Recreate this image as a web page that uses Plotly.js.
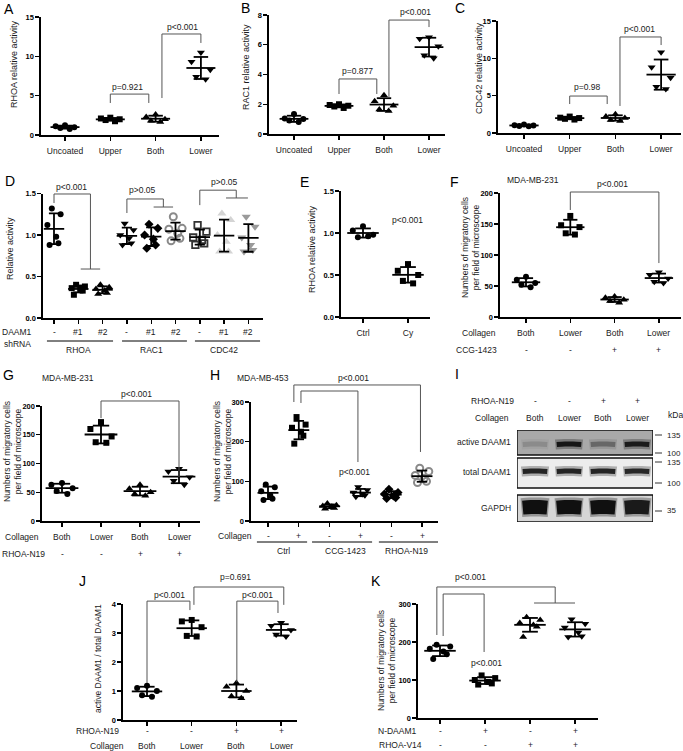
<!DOCTYPE html>
<html><head><meta charset="utf-8">
<script src="https://cdn.plot.ly/plotly-3.0.1.min.js"></script>
<style>html,body{margin:0;padding:0;background:#fff}#chart{width:683px;height:751px}</style>
</head><body><div id="chart"></div>
<script>
// ================= DATA =================
const activityGroups = ['Uncoated', 'Upper', 'Both', 'Lower'];
const rhoaActivity  = [[1.25,1.1,1.0,0.9,0.75],[2.2,2.1,2.0,1.9,1.75],[2.6,2.3,2.0,1.8,1.65],[10.5,9.3,8.3,7.4,7.1]];
const rac1Activity  = [[1.35,1.05,1.0,0.9,0.8],[2.0,1.95,1.9,1.85,1.75],[2.6,2.2,1.9,1.65,1.55],[6.5,6.4,5.9,5.3,5.1]];
const cdc42Activity = [[1.15,1.05,1.0,0.95,0.9],[2.2,2.05,2.0,1.9,1.8],[2.5,2.2,2.0,1.75,1.6],[10.8,8.8,7.4,6.2,5.9]];
const pA = ['p=0.921','p<0.001'];
const pB = ['p=0.877','p<0.001'];
const pC = ['p=0.98','p<0.001'];

const shDAAM1Labels = ['-','#1','#2','-','#1','#2','-','#1','#2'];
const gtpaseLabels = ['RHOA','RAC1','CDC42'];
const shDAAM1Activity = [
  [1.32,1.25,1.12,0.98,0.9,0.88],
  [0.40,0.38,0.36,0.35,0.33,0.28],
  [0.40,0.37,0.35,0.33,0.30,0.29],
  [1.14,1.06,1.0,0.96,0.9,0.88],
  [1.13,1.08,1.0,0.95,0.88,0.84],
  [1.22,1.08,1.07,1.02,0.96,0.93],
  [1.12,1.04,0.97,0.94,0.9,0.88],
  [1.26,1.18,1.0,0.92,0.8,0.8],
  [1.22,1.1,0.97,0.88,0.82,0.8]];
const pD = ['p<0.001','p>0.05','p>0.05'];

const cyGroups = ['Ctrl','Cy'];
const cyRhoa = [[1.08,1.03,0.98,0.95,0.96],[0.63,0.55,0.5,0.43,0.4]];
const pE = ['p<0.001'];

const collagenLabels = ['Both','Lower','Both','Lower'];
const ccgLabels = ['-','-','+','+'];
const mdaMB231CCG = [[65,60,55,52,48],[163,148,145,135,133],[33,31,28,26,23],[72,68,62,57,55]];
const n19Labels = ['-','-','+','+'];
const mdaMB231N19 = [[66,63,57,52,47],[172,160,147,137,136],[63,56,50,47,44],[91,86,76,70,63]];
const collagenPM = ['-','+','-','+','-','+'];
const treatmentGroups = ['Ctrl','CCG-1423','RHOA-N19'];
const mdaMB453 = [[92,85,75,65,56,53],[262,243,235,225,215,195],[44,40,38,36,33,31],[86,78,72,68,65,61],[80,72,68,63,59,57],[133,125,115,108,100,97]];

const blotN19 = ['-','-','+','+'];
const blotCollagen = ['Both','Lower','Both','Lower'];
const blotRows = ['active DAAM1','total DAAM1','GAPDH'];
const activeDAAM1Band = [0.15,0.92,0.35,0.88];
const totalDAAM1Band = [0.88,0.88,0.88,0.85];
const gapdhBand = [1,1,1,0.92];
const kDaMarkers = ['135','100','135','100','35'];

const daamRatio = [[1.18,1.1,1.0,0.85,0.8],[3.45,3.4,3.2,2.9,2.88],[1.28,1.15,1.0,0.82,0.75],[3.35,3.25,3.1,2.95,2.88]];
const nDAAM1Labels = ['-','+','-','+'];
const v14Labels = ['-','-','+','+'];
const nDaamV14 = [[193,188,182,175,168,155],[112,105,100,95,91,88],[265,258,250,245,240,213],[260,248,238,225,215,213]];

// ================= LAYOUT / STYLE =================
const W = 683, H = 751;
const FONT = 'Liberation Sans, Arial, sans-serif';
const TXT = '#1a1a1a';
const traces = [], shapes = [], annotations = [];
const layout = {width:W, height:H, margin:{l:0,r:0,t:0,b:0}, showlegend:false, hovermode:false,
  paper_bgcolor:'#fff', plot_bgcolor:'rgba(0,0,0,0)', shapes, annotations};

const P = {
  A:{n:1, ncat:4, x0:41, x1:219, c0:65, s:45.3, ytop:17, ybot:135, ymax:15, dtick:5, half:0.32},
  B:{n:2, ncat:4, x0:269, x1:445, c0:294, s:45, ytop:15, ybot:134, ymax:8, dtick:2, half:0.32},
  C:{n:3, ncat:4, x0:498, x1:681, c0:524, s:45.7, ytop:21, ybot:133, ymax:15, dtick:5, half:0.32},
  D:{n:4, ncat:9, x0:43, x1:263, c0:54, s:24.3, ytop:193.5, ybot:318, ymax:1.5, dtick:0.5, fmt:'.1f', half:0.42},
  E:{n:5, ncat:2, x0:341, x1:430, c0:363, s:45, ytop:191, ybot:317, ymax:1.5, dtick:0.5, fmt:'.1f', half:0.35},
  F:{n:6, ncat:4, x0:500, x1:681, c0:526, s:44.3, ytop:193, ybot:317, ymax:200, dtick:50, half:0.32},
  G:{n:7, ncat:4, x0:42, x1:200, c0:62, s:39, ytop:406, ybot:521, ymax:200, dtick:50, half:0.42},
  H:{n:8, ncat:6, x0:251, x1:438, c0:268, s:30.8, ytop:402, ybot:521, ymax:300, dtick:100, half:0.34},
  J:{n:9, ncat:4, x0:123, x1:297, c0:147, s:44.7, ytop:604, ybot:720, ymax:4, dtick:1, half:0.34},
  K:{n:10, ncat:4, x0:418, x1:598, c0:440, s:45, ytop:604, ybot:718, ymax:300, dtick:100, half:0.35}
};

function mean(a){return a.reduce((s,v)=>s+v,0)/a.length;}
function sdev(a){const m=mean(a);return Math.sqrt(a.reduce((s,v)=>s+(v-m)*(v-m),0)/(a.length-1));}
function px2x(px){return px/W;}
function py2y(py){return 1-py/H;}
function X(p,i){return (p.x0+(i-p.r0)*p.s)/W;}
function Y(p,v){return 1-(p.ybot - v/p.ymax*(p.ybot-p.ytop))/H;}

function ann(px,py,text,o){
  o=o||{};
  annotations.push({xref:'paper',yref:'paper',x:px2x(px),y:py2y(py),text,showarrow:false,
    xanchor:o.xa||'center',yanchor:'middle',textangle:o.angle||0,
    font:{family:FONT,size:o.size||8.5,color:o.color||TXT}});
}

function setupAxes(p, tickLabels){
  p.r0 = -(p.c0-p.x0)/p.s; p.r1 = p.r0+(p.x1-p.x0)/p.s;
  const sfx = p.n===1?'':p.n;
  p.xa='x'+sfx; p.ya='y'+sfx;
  const tv=[]; for(let i=0;i<p.ncat;i++) tv.push(i);
  layout['xaxis'+sfx] = {domain:[p.x0/W,p.x1/W], range:[p.r0,p.r1], anchor:p.ya, showline:true,
    linecolor:'#000', linewidth:1.6, ticks:'outside', ticklen:4, tickwidth:1.4, tickcolor:'#000',
    showgrid:false, zeroline:false, tickmode:'array', tickvals:tv, ticktext:tickLabels||tv.map(()=>''),
    showticklabels:!!tickLabels, ticklabelstandoff:3, tickfont:{family:FONT,size:8.5,color:TXT}, fixedrange:true};
  const yt=[]; for(let v=0; v<=p.ymax+1e-9; v+=p.dtick) yt.push(+v.toFixed(3));
  layout['yaxis'+sfx] = {domain:[1-p.ybot/H,1-p.ytop/H], range:[0,p.ymax], anchor:p.xa, showline:true,
    linecolor:'#000', linewidth:1.6, ticks:'outside', ticklen:4, tickwidth:1.4, tickcolor:'#000',
    showgrid:false, zeroline:false, tickmode:'array', tickvals:yt, tickformat:p.fmt||'',
    tickfont:{family:FONT,size:7.5,color:'#000',weight:'bold'}, fixedrange:true};
}

const JIT = {4:[-0.6,0.6,0,0.3], 5:[0,-0.9,0.9,-0.45,0.45], 6:[-0.3,0.9,-0.9,0.3,0.6,-0.6]};
const sC={sym:'circle',size:6}, sS={sym:'square',size:6}, sU={sym:'triangle-up',size:7}, sDn={sym:'triangle-down',size:7}, sDi={sym:'diamond',size:7};
const sOpenGrey={sym:'circle-open',size:7,color:'#8a8a8a',lw:2};

function groups(p, data, styles){
  data.forEach((vals,i)=>{
    const st=styles[i], n=vals.length, jp=JIT[n]||JIT[5];
    const xs=vals.map((v,k)=> i + jp[k%jp.length]*p.half*0.72);
    const col=st.color||'#000';
    traces.push({type:'scatter',mode:'markers',x:xs,y:vals,xaxis:p.xa,yaxis:p.ya,cliponaxis:false,
      marker:{symbol:st.sym,size:st.size,color:col,line:{width:st.lw||0,color:col}}});
    const m=mean(vals), sd=sdev(vals), h=p.half, c=p.half*0.5;
    traces.push({type:'scatter',mode:'lines',xaxis:p.xa,yaxis:p.ya,cliponaxis:false,
      x:[i-h,i+h,null,i,i,null,i-c,i+c,null,i-c,i+c],
      y:[m,m,null,m-sd,m+sd,null,m+sd,m+sd,null,m-sd,m-sd],
      line:{color:'#000',width:1.8}});
  });
}

function bracket(p,b){
  let path=`M ${X(p,b.xl)},${Y(p,b.yl)} L ${X(p,b.xl)},${Y(p,b.yt)} L ${X(p,b.xr)},${Y(p,b.yt)} L ${X(p,b.xr)},${Y(p,b.yr)}`;
  if(b.sub) path+=` M ${X(p,b.sub[0])},${Y(p,b.yr)} L ${X(p,b.sub[1])},${Y(p,b.yr)}`;
  shapes.push({type:'path',xref:'paper',yref:'paper',path,line:{color:'#555',width:1}});
  annotations.push({xref:'paper',yref:'paper',x:X(p,b.tx),y:Y(p,b.ty),text:b.t,showarrow:false,
    xanchor:'center',yanchor:'middle',font:{family:FONT,size:8.5,color:TXT}});
}
function pText(p,t,tx,ty){
  annotations.push({xref:'paper',yref:'paper',x:X(p,tx),y:Y(p,ty),text:t,showarrow:false,
    xanchor:'center',yanchor:'middle',font:{family:FONT,size:8.5,color:TXT}});
}
function rowLabels(p,labels,py){
  labels.forEach((t,i)=>annotations.push({xref:p.xa,yref:'paper',x:i,y:py2y(py),text:t,showarrow:false,
    xanchor:'center',yanchor:'middle',font:{family:FONT,size:8.5,color:TXT}}));
}
function groupLine(p,a,b,py){
  shapes.push({type:'line',xref:p.xa,yref:'paper',x0:a,x1:b,y0:py2y(py),y1:py2y(py),line:{color:'#000',width:1}});
}

// ---------- A ----------
setupAxes(P.A, activityGroups);
groups(P.A, rhoaActivity, [sC,sS,sU,sDn]);
bracket(P.A,{xl:1,xr:1.85,yt:5.2,yl:4.07,yr:4.07,t:pA[0],tx:1.39,ty:6.1});
bracket(P.A,{xl:2.14,xr:3,yt:12.84,yl:4.7,yr:11.7,t:pA[1],tx:2.6,ty:13.7});
ann(14,64,'RHOA relative activity',{angle:-90,size:9});
// ---------- B ----------
setupAxes(P.B, activityGroups);
groups(P.B, rac1Activity, [sC,sS,sU,sDn]);
bracket(P.B,{xl:1,xr:1.84,yt:3.7,yl:2.69,yr:2.69,t:pB[0],tx:1.4,ty:4.24});
bracket(P.B,{xl:2.11,xr:3,yt:7.66,yl:2.49,yr:7.19,t:pB[1],tx:2.69,ty:8.2});
ann(246,67,'RAC1 relative activity',{angle:-90,size:9});
// ---------- C ----------
setupAxes(P.C, activityGroups);
groups(P.C, cdc42Activity, [sC,sS,sU,sDn]);
bracket(P.C,{xl:1,xr:1.82,yt:4.95,yl:3.88,yr:3.88,t:pC[0],tx:1.4,ty:6.16});
bracket(P.C,{xl:2.1,xr:3,yt:12.86,yl:3.62,yr:11.78,t:pC[1],tx:2.52,ty:13.9});
ann(479,68,'CDC42 relative activity',{angle:-90,size:9});
// ---------- D ----------
setupAxes(P.D, null);
groups(P.D, shDAAM1Activity, [sC,sS,sU,sDn,sDi,sOpenGrey,
  {sym:'square-open',size:6.5,color:'#333',lw:1.8},{sym:'triangle-up',size:8,color:'#d4d4d4'},{sym:'triangle-down',size:8,color:'#9a9a9a'}]);
bracket(P.D,{xl:0,xr:1.5,yt:1.494,yl:1.385,yr:0.59,sub:[1.1,1.9],t:pD[0],tx:0.74,ty:1.578});
bracket(P.D,{xl:3,xr:4.5,yt:1.434,yl:1.265,yr:1.337,sub:[4.1,4.9],t:pD[1],tx:3.66,ty:1.542});
bracket(P.D,{xl:6,xr:7.5,yt:1.54,yl:1.36,yr:1.446,sub:[7.08,7.98],t:pD[2],tx:7.0,ty:1.64});
rowLabels(P.D, shDAAM1Labels, 332);
ann(17,332,'DAAM1'); ann(17,344,'shRNA');
groupLine(P.D,-0.29,2.43,341); groupLine(P.D,2.8,5.47,341); groupLine(P.D,5.8,8.48,341);
gtpaseLabels.forEach((t,k)=>annotations.push({xref:P.D.xa,yref:'paper',x:1+3*k,y:py2y(350),text:t,showarrow:false,
  xanchor:'center',yanchor:'middle',font:{family:FONT,size:8.5,color:TXT}}));
ann(10,249,'Relative activity',{angle:-90,size:9});
// ---------- E ----------
setupAxes(P.E, cyGroups);
groups(P.E, cyRhoa, [sC,sS]);
pText(P.E, pE[0], 0.98, 1.155);
ann(312,249,'RHOA relative activity',{angle:-90,size:9});
// ---------- F ----------
setupAxes(P.F, null);
groups(P.F, mdaMB231CCG, [sC,sS,sU,sDn]);
bracket(P.F,{xl:1,xr:3,yt:201.6,yl:172.6,yr:87,t:'p<0.001',tx:1.96,ty:214.5});
rowLabels(P.F, collagenLabels, 333); rowLabels(P.F, ccgLabels, 350);
ann(479,333,'Collagen'); ann(476,350,'CCG-1423');
ann(533,180,'MDA-MB-231');
ann(470,248,'Numbers of migratory cells<br>per field of microscope',{angle:-90,size:8.5});
// ---------- G ----------
setupAxes(P.G, null);
groups(P.G, mdaMB231N19, [sC,sS,sU,sDn]);
bracket(P.G,{xl:1,xr:3,yt:208.7,yl:179,yr:76.5,t:'p<0.001',tx:1.92,ty:220.9});
rowLabels(P.G, collagenLabels, 537); rowLabels(P.G, n19Labels, 554);
ann(22,537,'Collagen'); ann(23,554,'RHOA-N19');
ann(68,378,'MDA-MB-231');
ann(13,452,'Numbers of migratory cells<br>per field of microscope',{angle:-90,size:8.5});
// ---------- H ----------
setupAxes(P.H, null);
groups(P.H, mdaMB453, [sC,sS,sU,sDn,sDi,sOpenGrey]);
bracket(P.H,{xl:0.84,xr:4.95,yt:342.9,yl:300,yr:174,t:'p<0.001',tx:2.76,ty:360.5});
bracket(P.H,{xl:1.07,xr:2.92,yt:327.7,yl:297.5,yr:148.7,t:'p<0.001',tx:2.82,ty:123.5});
rowLabels(P.H, collagenPM, 536);
ann(254,536,'Collagen',{xa:'right'});
groupLine(P.H,-0.36,1.27,542); groupLine(P.H,1.43,3.38,542); groupLine(P.H,3.6,5.52,542);
treatmentGroups.forEach((t,k)=>annotations.push({xref:P.H.xa,yref:'paper',x:0.5+2*k,y:py2y(551),text:t,showarrow:false,
  xanchor:'center',yanchor:'middle',font:{family:FONT,size:8.5,color:TXT}}));
ann(263,378,'MDA-MB-453');
ann(223,452,'Numbers of migratory cells<br>per field of microscope',{angle:-90,size:8.5});
// ---------- I (blot) ----------
const BL = {x0:517, x1:653, c0:535, s:34};
BL.r0 = -(BL.c0-BL.x0)/BL.s; BL.r1 = BL.r0+(BL.x1-BL.x0)/BL.s;
layout.xaxis11 = {domain:[BL.x0/W,BL.x1/W], range:[BL.r0,BL.r1], anchor:'y11', visible:false, fixedrange:true};
layout.yaxis11 = {domain:[1-522/H,1-430/H], range:[92,0], anchor:'x11', visible:false, fixedrange:true};
const boxes = [[0,25,'#a9a9a9'],[28,58,'#ededed'],[65,92,'#d6d6d6']];
boxes.forEach(b=>shapes.push({type:'rect',xref:'x11',yref:'y11',x0:BL.r0,x1:BL.r1,y0:b[0],y1:b[1],
  fillcolor:b[2],line:{color:'#111',width:1.5},layer:'below'}));
function bands(arr, yb, thick){
  arr.forEach((v,i)=>{
    traces.push({type:'scatter',mode:'lines',xaxis:'x11',yaxis:'y11',x:[i-0.4,i-0.15,i+0.15,i+0.4],y:[yb+0.6,yb,yb,yb+0.6],
      line:{color:`rgba(0,0,0,${(0.3*v).toFixed(3)})`,width:thick+5,shape:'spline'}});
    traces.push({type:'scatter',mode:'lines',xaxis:'x11',yaxis:'y11',x:[i-0.36,i-0.12,i+0.12,i+0.36],y:[yb+0.6,yb,yb,yb+0.6],
      line:{color:`rgba(8,8,8,${(0.95*v).toFixed(3)})`,width:thick,shape:'spline'}});
  });
}
bands(activeDAAM1Band, 14, 5);
bands(totalDAAM1Band, 41, 5);
bands(gapdhBand, 77, 14);
blotN19.forEach((t,i)=>ann(BL.x0+(i-BL.r0)*BL.s,401,t));
blotCollagen.forEach((t,i)=>ann(BL.x0+(i-BL.r0)*BL.s,418,t));
ann(492,401,'RHOA-N19'); ann(492,418,'Collagen');
ann(513,442,blotRows[0],{xa:'right'}); ann(513,472,blotRows[1],{xa:'right'}); ann(513,508,blotRows[2],{xa:'right'});
ann(666,415,'kDa',{xa:'left'});
const markerY = [435,453,462,483,511];
markerY.forEach((y,k)=>{
  shapes.push({type:'line',xref:'paper',yref:'paper',x0:px2x(655),x1:px2x(662),y0:py2y(y),y1:py2y(y),line:{color:'#333',width:1}});
  ann(665,y,kDaMarkers[k],{xa:'left',size:8});
});
// ---------- J ----------
setupAxes(P.J, null);
groups(P.J, daamRatio, [sC,sS,sU,sDn]);
bracket(P.J,{xl:0,xr:0.96,yt:4.10,yl:1.276,yr:3.79,t:'p<0.001',tx:0.51,ty:4.31});
bracket(P.J,{xl:2.01,xr:2.93,yt:4.10,yl:1.31,yr:3.69,t:'p<0.001',tx:2.48,ty:4.31});
bracket(P.J,{xl:1.05,xr:3.06,yt:4.586,yl:3.97,yr:3.97,t:'p=0.691',tx:1.99,ty:4.93});
rowLabels(P.J, n19Labels, 731); rowLabels(P.J, collagenLabels, 746);
ann(97,731,'RHOA-N19'); ann(107,746,'Collagen');
ann(98,659,'active DAAM1 / total DAAM1',{angle:-90,size:8.5});
// ---------- K ----------
setupAxes(P.K, null);
groups(P.K, nDaamV14, [sC,sS,sU,sDn]);
bracket(P.K,{xl:-0.07,xr:2.56,yt:344.8,yl:218.4,yr:302.6,sub:[2.09,3.0],t:'p<0.001',tx:0.67,ty:371});
bracket(P.K,{xl:0.07,xr:0.98,yt:326.3,yl:215.8,yr:173.7,t:'p<0.001',tx:1.04,ty:144.7});
rowLabels(P.K, nDAAM1Labels, 731); rowLabels(P.K, v14Labels, 745);
ann(397,731,'N-DAAM1'); ann(400,745,'RHOA-V14');
ann(386,661,'Numbers of migratory cells<br>per field of microscope',{angle:-90,size:8.5});

// ---------- panel letters ----------
[['A',9,9],['B',245,8],['C',460,8],['D',10,181],['E',304,182],['F',454,182],['G',8,375],['H',215,375],['I',457,374],['J',82,581],['K',376,581]]
  .forEach(l=>ann(l[1],l[2],l[0],{size:14,color:'#000'}));

Plotly.newPlot('chart', traces, layout, {staticPlot:true, displayModeBar:false});
</script>
</body></html>
